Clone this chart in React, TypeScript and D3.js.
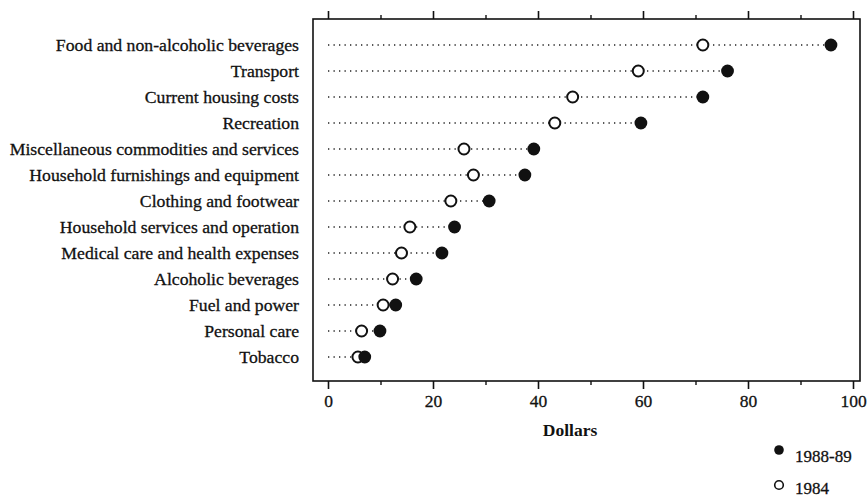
import { useEffect, useRef } from "react";
import * as d3 from "d3";

const categories = [
  "Food and non-alcoholic beverages",
  "Transport",
  "Current housing costs",
  "Recreation",
  "Miscellaneous commodities and services",
  "Household furnishings and equipment",
  "Clothing and footwear",
  "Household services and operation",
  "Medical care and health expenses",
  "Alcoholic beverages",
  "Fuel and power",
  "Personal care",
  "Tobacco",
];

// 1988-89 (filled) and 1984 (open), dollars per week
const values8889 = [95.8, 76.1, 71.4, 59.6, 39.2, 37.5, 30.7, 24.1, 21.7, 16.8, 12.9, 9.9, 7.0];
const values1984 = [71.4, 59.1, 46.6, 43.2, 25.9, 27.7, 23.4, 15.6, 14.0, 12.3, 10.5, 6.4, 5.7];

const majorTicks = [0, 20, 40, 60, 80, 100];
const minorTicks = [10, 30, 50, 70, 90];

const W = 867;
const H = 499;
const FONT = "'Liberation Serif', 'Times New Roman', serif";
const INK = "#111";

function renderChart(element: SVGSVGElement) {
  const svg = d3.select(element);
  svg.selectAll("*").remove();

  const x = d3.scaleLinear().domain([0, 100]).range([328, 853]);
  const y = d3.scalePoint<string>().domain(categories).range([45, 357]);

  const boxLeft = 313;
  const boxRight = 860;
  const boxTop = 19;
  const boxBottom = 381;

  // frame
  svg
    .append("rect")
    .attr("x", boxLeft)
    .attr("y", boxTop)
    .attr("width", boxRight - boxLeft)
    .attr("height", boxBottom - boxTop)
    .attr("fill", "none")
    .attr("stroke", INK)
    .attr("stroke-width", 1.6);

  // bottom axis
  const bottom = svg.append("g").attr("transform", `translate(0,${boxBottom})`);
  bottom
    .call(
      d3
        .axisBottom(x)
        .tickValues(majorTicks)
        .tickSize(8)
        .tickPadding(6)
        .tickFormat(d3.format("d"))
    )
    .call((g) => g.select(".domain").remove());
  bottom
    .selectAll("text")
    .attr("font-family", FONT)
    .attr("font-size", 17.5)
    .attr("fill", INK)
    .attr("stroke", INK)
    .attr("stroke-width", 0.3);
  bottom.selectAll("line").attr("stroke", INK).attr("stroke-width", 1.6);

  const bottomMinor = svg.append("g").attr("transform", `translate(0,${boxBottom})`);
  bottomMinor
    .call(d3.axisBottom(x).tickValues(minorTicks).tickSize(4).tickFormat(() => ""))
    .call((g) => g.select(".domain").remove());
  bottomMinor.selectAll("line").attr("stroke", INK).attr("stroke-width", 1.4);

  // top axis, ticks only
  const top = svg.append("g").attr("transform", `translate(0,${boxTop})`);
  top
    .call(d3.axisTop(x).tickValues(majorTicks).tickSize(8).tickFormat(() => ""))
    .call((g) => g.select(".domain").remove());
  top.selectAll("line").attr("stroke", INK).attr("stroke-width", 1.6);

  const topMinor = svg.append("g").attr("transform", `translate(0,${boxTop})`);
  topMinor
    .call(d3.axisTop(x).tickValues(minorTicks).tickSize(4).tickFormat(() => ""))
    .call((g) => g.select(".domain").remove());
  topMinor.selectAll("line").attr("stroke", INK).attr("stroke-width", 1.4);

  // category labels
  svg
    .append("g")
    .selectAll("text")
    .data(categories)
    .join("text")
    .attr("x", 299)
    .attr("y", (d) => y(d)!)
    .attr("dy", "0.35em")
    .attr("text-anchor", "end")
    .attr("font-family", FONT)
    .attr("font-size", 17.7)
    .attr("fill", INK)
    .attr("stroke", INK)
    .attr("stroke-width", 0.3)
    .text((d) => d);

  // dotted guide lines
  svg
    .append("g")
    .selectAll("line")
    .data(categories)
    .join("line")
    .attr("x1", x(0))
    .attr("x2", (_, i) => x(Math.max(values8889[i], values1984[i])))
    .attr("y1", (d) => y(d)!)
    .attr("y2", (d) => y(d)!)
    .attr("stroke", "#222")
    .attr("stroke-width", 1.3)
    .attr("stroke-dasharray", "1.3,4.2");

  // 1984 open circles
  svg
    .append("g")
    .selectAll("circle")
    .data(categories)
    .join("circle")
    .attr("cx", (_, i) => x(values1984[i]))
    .attr("cy", (d) => y(d)!)
    .attr("r", 5.5)
    .attr("fill", "#fff")
    .attr("stroke", INK)
    .attr("stroke-width", 2);

  // 1988-89 filled circles
  svg
    .append("g")
    .selectAll("circle")
    .data(categories)
    .join("circle")
    .attr("cx", (_, i) => x(values8889[i]))
    .attr("cy", (d) => y(d)!)
    .attr("r", 6.4)
    .attr("fill", INK);

  // x axis title
  svg
    .append("text")
    .attr("x", 570)
    .attr("y", 436)
    .attr("text-anchor", "middle")
    .attr("font-family", FONT)
    .attr("font-size", 17.5)
    .attr("font-weight", "bold")
    .attr("fill", INK)
    .text("Dollars");

  // legend
  const legend = svg.append("g");
  legend
    .append("circle")
    .attr("cx", 779)
    .attr("cy", 450)
    .attr("r", 4.8)
    .attr("fill", INK);
  legend
    .append("text")
    .attr("x", 795)
    .attr("y", 462)
    .attr("font-family", FONT)
    .attr("font-size", 17)
    .attr("fill", INK)
    .attr("stroke", INK)
    .attr("stroke-width", 0.3)
    .text("1988-89");
  legend
    .append("circle")
    .attr("cx", 779)
    .attr("cy", 485)
    .attr("r", 4.3)
    .attr("fill", "#fff")
    .attr("stroke", INK)
    .attr("stroke-width", 1.6);
  legend
    .append("text")
    .attr("x", 795)
    .attr("y", 494)
    .attr("font-family", FONT)
    .attr("font-size", 17)
    .attr("fill", INK)
    .attr("stroke", INK)
    .attr("stroke-width", 0.3)
    .text("1984");
}

export default function App() {
  const ref = useRef<SVGSVGElement>(null);
  useEffect(() => {
    if (ref.current) renderChart(ref.current);
  }, []);
  return (
    <svg
      ref={ref}
      width={W}
      height={H}
      style={{ position: "absolute", left: 0, top: 0, background: "#fff" }}
    />
  );
}
